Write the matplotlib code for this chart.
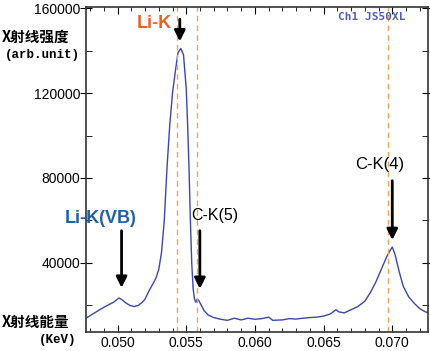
import matplotlib.pyplot as plt
from matplotlib.ticker import MultipleLocator

plt.rcParams['font.family'] = ['Liberation Sans', 'Noto Sans CJK SC', 'DejaVu Sans']

# spectrum (keV, counts)
energy = [0.0477, 0.0482, 0.0487, 0.0491, 0.0494, 0.0497, 0.0499, 0.0501, 0.0503,
          0.0506, 0.0509, 0.0512, 0.0515, 0.0518, 0.0520, 0.0523, 0.0526, 0.0528,
          0.0530, 0.0532, 0.0534, 0.0536, 0.0538, 0.0540, 0.0542, 0.0544, 0.0546,
          0.0548, 0.0550, 0.0551, 0.0552, 0.0553, 0.0554, 0.0555, 0.0556, 0.0557,
          0.0558, 0.0559, 0.0561, 0.0563, 0.0566, 0.0570, 0.0575, 0.0580, 0.0585,
          0.0590, 0.0595, 0.0600, 0.0605, 0.0610, 0.0613, 0.0620, 0.0625, 0.0630,
          0.0635, 0.0640, 0.0645, 0.0650, 0.0655, 0.0659, 0.0661, 0.0665, 0.0670,
          0.0675, 0.0680, 0.0684, 0.0688, 0.0692, 0.0696, 0.0699, 0.0700, 0.0702,
          0.0705, 0.0708, 0.0712, 0.0716, 0.0720, 0.0724, 0.0727]
counts = [14000, 16000, 18000, 19500, 20500, 21500, 22500, 23500, 22800,
          21200, 20000, 19500, 20000, 21500, 23000, 27000, 30500, 33000,
          37000, 45000, 60000, 85000, 105000, 120000, 130000, 139000, 141000,
          138000, 122000, 105000, 85000, 60000, 40000, 28000, 23000, 21500,
          23000, 22500, 20000, 17500, 15500, 14300, 13500, 13000, 14000,
          13200, 14000, 13500, 13800, 14500, 13000, 13200, 13800, 13600,
          14000, 14300, 14500, 15000, 16000, 18000, 17000, 16500, 18000,
          19500, 22000, 26000, 31000, 37000, 43000, 46500, 47500, 44000,
          36000, 29000, 24000, 21000, 18500, 17000, 16500]

ref_lines = [0.0543, 0.0558, 0.0697]

peak_labels = ['Li-K', 'Li-K(VB)', 'C-K(5)', 'C-K(4)']
peak_colors = ['#e8641e', '#1f5fae', 'black', 'black']
label_pos = [(0.05265, 152500), (0.04880, 61000), (0.0571, 62500), (0.06905, 86500)]
label_size = [13, 13, 11.5, 12]
label_weight = ['semibold', 'semibold', 'normal', 'normal']
arrow_x = [0.05453, 0.05029, 0.05599, 0.0700]
arrow_y = [(156000, 143000), (56500, 27000), (56500, 26500), (80000, 49500)]

fig = plt.figure(figsize=(4.31, 3.51), dpi=100)
ax = fig.add_axes([0.1995, 0.0541, 0.7935, 0.926])

ax.plot(energy, counts, color='#3a48a8', lw=1.0)
for xv in ref_lines:
    ax.axvline(xv, color='#f2a35a', ls=(0, (4, 3)), lw=1.0)

for lab, col, pos, size, w in zip(peak_labels, peak_colors, label_pos, label_size, label_weight):
    ax.text(pos[0], pos[1], lab, color=col, fontsize=size, weight=w, ha='center', va='center')
for xa, (y0, y1) in zip(arrow_x, arrow_y):
    ax.annotate('', xy=(xa, y1), xytext=(xa, y0),
                arrowprops=dict(arrowstyle='-|>', color='black', lw=2, mutation_scale=16))

ax.text(0.06854, 156000, 'Ch1 JS50XL', color='#4f5fb0', fontsize=8, weight='bold',
        family='DejaVu Sans Mono', ha='center', va='center')

ax.set_xlim(0.0477, 0.0726)
ax.set_ylim(7500, 160500)
ax.xaxis.set_major_locator(MultipleLocator(0.005))
ax.xaxis.set_minor_locator(MultipleLocator(0.001))
ax.yaxis.set_major_locator(MultipleLocator(40000))
ax.yaxis.set_minor_locator(MultipleLocator(20000))
ax.xaxis.set_major_formatter(lambda v, p: f'{v:.3f}')
ax.tick_params(axis='x', which='both', direction='in', top=True, labelsize=10, pad=3)
ax.tick_params(axis='x', which='major', length=5)
ax.tick_params(axis='x', which='minor', length=3)
ax.tick_params(axis='y', which='major', direction='inout', right=True, length=8, labelsize=10, pad=0)
ax.tick_params(axis='y', which='minor', direction='in', right=True, length=4)
for s in ax.spines.values():
    s.set_color('#333333')
    s.set_linewidth(1.2)

cjk = ['Noto Sans CJK SC', 'DejaVu Sans']
fig.text(0.003, 1 - 37 / 351, 'X射线强度', fontsize=10.5, weight='bold', family=cjk, va='center')
fig.text(0.012, 1 - 55 / 351, '(arb.unit)', fontsize=9, weight='bold', family='Liberation Mono', va='center')
fig.text(0.003, 1 - 322 / 351, 'X射线能量', fontsize=10.5, weight='bold', family=cjk, va='center')
fig.text(0.09, 1 - 340 / 351, '(KeV)', fontsize=9, weight='bold', family='Liberation Mono', va='center')

fig.savefig('out.png', dpi=100)
